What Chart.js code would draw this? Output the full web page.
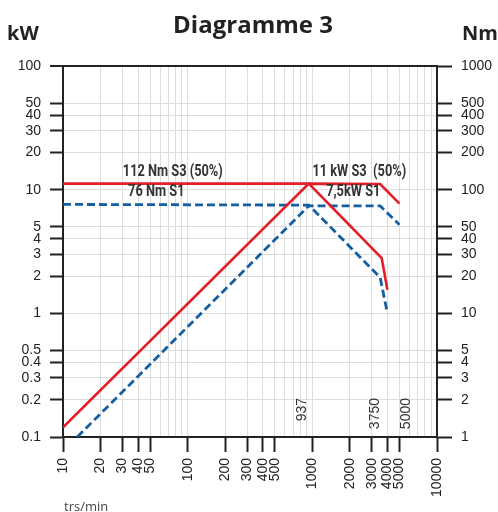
<!DOCTYPE html>
<html>
<head>
<meta charset="utf-8">
<script src="https://cdn.jsdelivr.net/npm/chart.js@4.4.1/dist/chart.umd.min.js"></script>
<style>
  html, body { margin: 0; padding: 0; background: #fff; }
  #wrap { width: 498px; height: 512px; position: relative; }
</style>
</head>
<body>
<div id="wrap"><canvas id="c" width="498" height="512"></canvas></div>
<script>
// ---- data (kW scale; torque plotted as Nm/10 on the same left scale) ----
const rpmLabelTicks = [10, 20, 30, 40, 50, 100, 200, 300, 400, 500, 1000, 2000, 3000, 4000, 5000, 10000];
const kwTicks = [0.1, 0.2, 0.3, 0.4, 0.5, 1, 2, 3, 4, 5, 10, 20, 30, 40, 50, 100];
const nmTicks = [1, 2, 3, 4, 5, 10, 20, 30, 40, 50, 100, 200, 300, 400, 500, 1000];

const rpmS3Torque = [10, 937, 3600, 4000];
const kwS3Torque  = [11.2, 11.2, 2.8, 1.55];
const rpmS3Power  = [10, 937, 3500, 5000];
const kwS3Power   = [0.12, 11.2, 11.1, 7.7];

const rpmS1Torque = [10, 937, 3500, 4000];
const kwS1Torque  = [7.6, 7.5, 1.95, 1.0];
const rpmS1Power  = [13, 937, 3500, 5000];
const kwS1Power   = [0.1, 7.4, 7.4, 5.2];

const markerRpm = [937, 3750, 5000];

const seriesLabels = [
  { text: '112 Nm S3 (50%)', rpm: 76,   kw: 11.2 },
  { text: '76 Nm S1',        rpm: 56,   kw: 7.6 },
  { text: '11 kW S3  (50%)', rpm: 2380, kw: 11.2 },
  { text: '7,5kW S1',        rpm: 2130, kw: 7.6 }
];

const RED = '#e31e26';
const BLUE = '#145fa2';
const DARK = '#222222';
const GRID = '#dddddd';

function pts(xs, ys) { return xs.map((x, i) => ({ x: x, y: ys[i] })); }

// all grid positions of the rpm axis (1..9 per decade)
const rpmGrid = [];
[10, 100, 1000].forEach(d => { for (let m = 1; m <= 9; m++) rpmGrid.push(m * d); });
rpmGrid.push(10000);

const textPlugin = {
  id: 'texts',
  afterDraw(chart) {
    const ctx = chart.ctx;
    const xs = chart.scales.x, ys = chart.scales.y;
    ctx.save();
    ctx.fillStyle = DARK;
    // title
    ctx.font = 'bold 24px "Open Sans"';
    ctx.textAlign = 'center';
    ctx.textBaseline = 'alphabetic';
    ctx.fillText('Diagramme 3', 253, 33);
    // axis units
    ctx.font = 'bold 20px "Open Sans"';
    ctx.textAlign = 'left';
    ctx.fillText('kW', 7, 40);
    ctx.textAlign = 'right';
    ctx.fillText('Nm', 498, 40);
    // trs/min
    ctx.font = '13px "Open Sans"';
    ctx.fillStyle = '#444';
    ctx.textAlign = 'left';
    ctx.fillText('trs/min', 64, 511);
    // series labels (condensed bold look)
    ctx.fillStyle = '#333';
    ctx.font = 'bold 16px Roboto';
    ctx.textAlign = 'center';
    ctx.textBaseline = 'middle';
    seriesLabels.forEach(l => {
      ctx.save();
      ctx.translate(xs.getPixelForValue(l.rpm), ys.getPixelForValue(l.kw) - 12);
      ctx.scale(0.8, 1);
      ctx.fillText(l.text, 0, 0);
      ctx.restore();
    });
    // speed markers (rotated)
    ctx.font = '14px "Liberation Sans"';
    ctx.fillStyle = '#333';
    const offs = [-7, -9, 7];
    markerRpm.forEach((r, i) => {
      const x = xs.getPixelForValue(r) + offs[i];
      ctx.save();
      ctx.translate(x, 398);
      ctx.rotate(-Math.PI / 2);
      ctx.textAlign = 'right';
      ctx.textBaseline = 'middle';
      ctx.fillText(String(r), 0, 0);
      ctx.restore();
    });
    ctx.restore();
  }
};

new Chart(document.getElementById('c'), {
  type: 'line',
  data: {
    datasets: [
      { data: pts(rpmS3Torque, kwS3Torque), borderColor: RED, borderWidth: 2.6 },
      { data: pts(rpmS3Power, kwS3Power), borderColor: RED, borderWidth: 2.6 },
      { data: pts(rpmS1Torque, kwS1Torque), borderColor: BLUE, borderWidth: 2.8, borderDash: [8, 4] },
      { data: pts(rpmS1Power, kwS1Power), borderColor: BLUE, borderWidth: 2.8, borderDash: [8, 4] }
    ]
  },
  options: {
    responsive: false,
    animation: false,
    events: [],
    layout: { padding: { top: 66, left: 0, right: 0, bottom: 0 } },
    elements: { point: { radius: 0 }, line: { tension: 0, fill: false } },
    plugins: { legend: { display: false }, tooltip: { enabled: false }, title: { display: false } },
    scales: {
      x: {
        type: 'logarithmic',
        min: 10, max: 10000,
        afterFit(s) { s.height = 75; },
        afterBuildTicks(s) { s.ticks = rpmGrid.map(v => ({ value: v })); },
        ticks: {
          autoSkip: false,
          minRotation: 90, maxRotation: 90,
          padding: 6,
          color: DARK,
          font: { family: 'Liberation Sans', size: 14 },
          callback(v) { return rpmLabelTicks.includes(v) ? String(v) : ''; }
        },
        grid: {
          color: GRID,
          lineWidth: 1,
          tickLength: 15,
          tickWidth: 2,
          tickColor(c) { return c.tick && rpmLabelTicks.includes(c.tick.value) ? DARK : 'rgba(0,0,0,0)'; }
        },
        border: { color: DARK, width: 2 }
      },
      y: {
        type: 'logarithmic',
        position: 'left',
        min: 0.1, max: 100,
        afterFit(s) { s.width = 63; },
        afterBuildTicks(s) { s.ticks = kwTicks.map(v => ({ value: v })); },
        ticks: {
          autoSkip: false,
          padding: 9,
          color: DARK,
          font: { family: 'Liberation Sans', size: 14 },
          callback(v) { return String(v); }
        },
        grid: {
          color(c) { return c.tick && c.tick.value === 100 ? DARK : GRID; },
          lineWidth(c) { return c.tick && c.tick.value === 100 ? 2 : 1; },
          tickLength: 13,
          tickWidth: 2,
          tickColor: DARK
        },
        border: { color: DARK, width: 2 }
      },
      y2: {
        type: 'logarithmic',
        position: 'right',
        display: true,
        min: 1, max: 1000,
        afterFit(s) { s.width = 61; },
        afterBuildTicks(s) { s.ticks = nmTicks.map(v => ({ value: v })); },
        ticks: {
          autoSkip: false,
          padding: 9,
          color: DARK,
          font: { family: 'Liberation Sans', size: 14 },
          callback(v) { return String(v); }
        },
        grid: {
          drawOnChartArea: false,
          tickLength: 15,
          tickWidth: 2,
          tickColor: DARK
        },
        border: { color: DARK, width: 2 }
      }
    }
  },
  plugins: [textPlugin]
});
</script>
</body>
</html>
